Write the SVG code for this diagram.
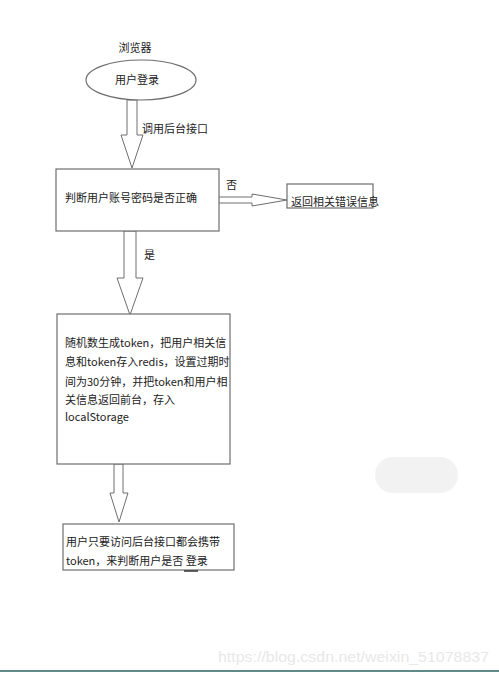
<svg xmlns="http://www.w3.org/2000/svg" width="499" height="675" viewBox="0 0 499 675">
<style>
.box{fill:#fff;stroke:#6e6e6e;stroke-width:1.2}
.arr{fill:#fff;stroke:#6e6e6e;stroke-width:1}
.t{font-family:"Noto Sans CJK SC","Liberation Sans",sans-serif;font-size:11px;fill:#222}
.wm{font-family:"Liberation Sans",sans-serif;font-size:15px;fill:#e8e8e8}
</style>
<rect width="499" height="675" fill="#fff"/>
<g id="connectors">
  <polygon class="arr" points="127,100 137,100 137,135 143,135 132,168 121,135 127,135"/>
  <text class="t" x="142" y="133">调用后台接口</text>
  <polygon class="arr" points="217,197 252,197 252,194 287,200 252,206 252,203 217,203"/>
  <text class="t" x="226" y="189">否</text>
  <polygon class="arr" points="124,231 136,231 136,278 143,278 130,315 117,278 124,278"/>
  <text class="t" x="144" y="259">是</text>
  <polygon class="arr" points="114,464 123,464 123,493 128,493 119,522 110,493 114,493"/>
</g>
<g id="browser">
  <text class="t" x="135" y="52" text-anchor="middle">浏览器</text>
</g>
<g id="login">
  <ellipse class="box" cx="141" cy="80" rx="55" ry="20"/>
  <text class="t" x="137" y="84" text-anchor="middle">用户登录</text>
</g>
<g id="check">
  <rect class="box" x="56" y="169" width="163" height="62"/>
  <text class="t" x="65" y="202">判断用户账号密码是否正确</text>
</g>
<g id="error">
  <rect class="box" x="287" y="184" width="86" height="24"/>
  <text class="t" x="291" y="206">返回相关错误信息</text>
</g>
<g id="token">
  <rect class="box" x="57" y="314" width="173" height="150"/>
  <text class="t" x="65" y="347">随机数生成token，把用户相关信</text>
  <text class="t" x="65" y="366">息和token存入redis，设置过期时</text>
  <text class="t" x="65" y="386">间为30分钟，并把token和用户相</text>
  <text class="t" x="65" y="404">关信息返回前台，存入</text>
  <text class="t" x="65" y="421">localStorage</text>
</g>
<g id="carry">
  <rect class="box" x="63" y="524" width="171" height="46"/>
  <text class="t" x="66" y="546">用户只要访问后台接口都会携带</text>
  <text class="t" x="66" y="565">token，来判断用户是否 登录</text>
  <line x1="184" y1="571" x2="198" y2="571" stroke="#333" stroke-width="1.5"/>
</g>
<rect x="375" y="457" width="83" height="36" rx="18" fill="#f2f2f2"/>
<text class="wm" x="218" y="662" textLength="271" lengthAdjust="spacingAndGlyphs">https://blog.csdn.net/weixin_51078837</text>
<rect x="0" y="670" width="499" height="2" fill="#5f8a8a"/>
</svg>
